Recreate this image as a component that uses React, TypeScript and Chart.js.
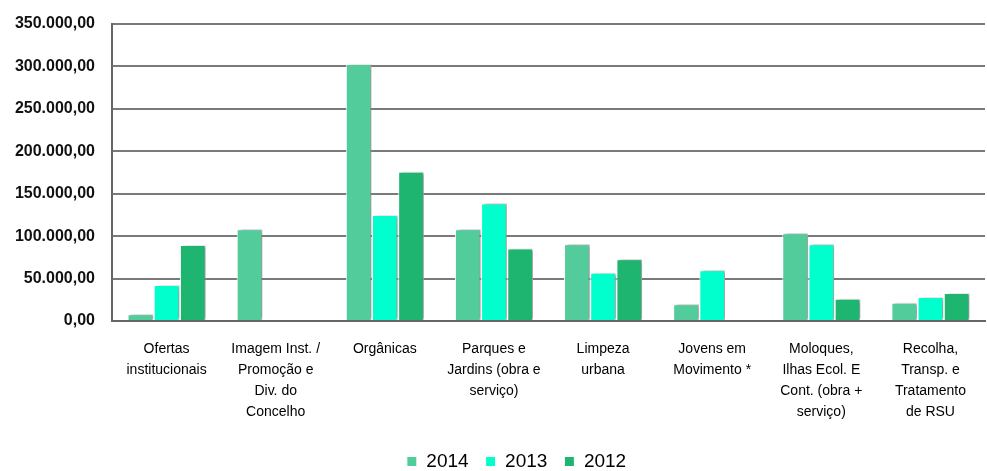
import React, { useEffect, useRef } from "react";
import { Chart, registerables } from "chart.js";

Chart.register(...registerables);

const categories: string[][] = [
  ["Ofertas", "institucionais"],
  ["Imagem Inst. /", "Promoção e", "Div. do", "Concelho"],
  ["Orgânicas"],
  ["Parques e", "Jardins (obra e", "serviço)"],
  ["Limpeza", "urbana"],
  ["Jovens em", "Movimento *"],
  ["Moloques,", "Ilhas Ecol. E", "Cont. (obra +", "serviço)"],
  ["Recolha,", "Transp. e", "Tratamento", "de RSU"],
];

const seriesNames = ["2014", "2013", "2012"];
const values2014 = [8000, 108000, 303000, 108000, 90500, 19700, 103500, 21600];
const values2013 = [42500, 0, 125000, 138500, 57000, 59800, 90500, 28300];
const values2012 = [89700, 0, 176000, 85300, 72800, 0, 26300, 33000];
const seriesColors = ["#53CC9C", "#00FFCC", "#1DB56F"];

const yMax = 350000;
const yStep = 50000;

const FONT = "'Liberation Sans', Arial, sans-serif";

function fmt(v: number): string {
  const s = Math.round(v).toString().replace(/\B(?=(\d{3})+(?!\d))/g, ".");
  return s + ",00";
}

const shadowPlugin = {
  id: "barShadow",
  beforeDatasetDraw(chart: any) {
    const ctx = chart.ctx;
    ctx.save();
    ctx.shadowColor = "rgba(0,0,0,0.4)";
    ctx.shadowBlur = 3;
    ctx.shadowOffsetX = 3;
    ctx.shadowOffsetY = 0;
  },
  afterDatasetDraw(chart: any) {
    chart.ctx.restore();
  },
};

// center the legend a little right of the canvas centre, as in the original
const legendShiftPlugin = {
  id: "legendShift",
  afterLayout(chart: any) {
    if (chart.legend) {
      chart.legend.left = 48;
    }
  },
};

export default function App() {
  const ref = useRef<HTMLCanvasElement | null>(null);

  useEffect(() => {
    document.body.style.margin = "0";
    const canvas = ref.current;
    if (!canvas) return;
    const data = [values2014, values2013, values2012];
    const chart = new Chart(canvas, {
      type: "bar",
      data: {
        labels: categories as any,
        datasets: seriesNames.map((name, i) => ({
          label: name,
          data: data[i],
          backgroundColor: seriesColors[i],
          borderColor: "#ffffff",
          borderWidth: 1,
          categoryPercentage: 0.72,
          barPercentage: 0.98,
        })),
      },
      plugins: [shadowPlugin, legendShiftPlugin],
      options: {
        animation: false,
        responsive: false,
        maintainAspectRatio: false,
        layout: { padding: { left: 0, right: 2, top: 24, bottom: -10 } },
        plugins: {
          legend: {
            position: "bottom",
            labels: {
              boxWidth: 10,
              boxHeight: 10,
              padding: 17,
              color: "#000",
              font: { family: FONT, size: 19 },
            },
          },
          tooltip: { enabled: false },
        },
        scales: {
          x: {
            afterFit(scale: any) {
              scale.height = 114;
            },
            grid: { display: false, drawTicks: false },
            border: { display: true, color: "#666", width: 2 },
            ticks: {
              color: "#000",
              font: { family: FONT, size: 14, lineHeight: 1.5 },
              maxRotation: 0,
              minRotation: 0,
              autoSkip: false,
              padding: 18,
            },
          },
          y: {
            min: 0,
            max: yMax,
            afterFit(scale: any) {
              scale.width = 112;
              scale.paddingTop = 4;
              scale.paddingBottom = 4;
            },
            grid: { color: "#7a7a7a", lineWidth: 2, drawTicks: false },
            border: { display: true, color: "#666", width: 2 },
            ticks: {
              stepSize: yStep,
              color: "#111",
              padding: 17,
              font: { family: FONT, size: 16, weight: "bold" },
              callback: (v: any) => fmt(Number(v)),
            },
          },
        },
      },
    } as any);
    return () => chart.destroy();
  }, []);

  return <canvas ref={ref} width={987} height={471} style={{ display: "block" }} />;
}
